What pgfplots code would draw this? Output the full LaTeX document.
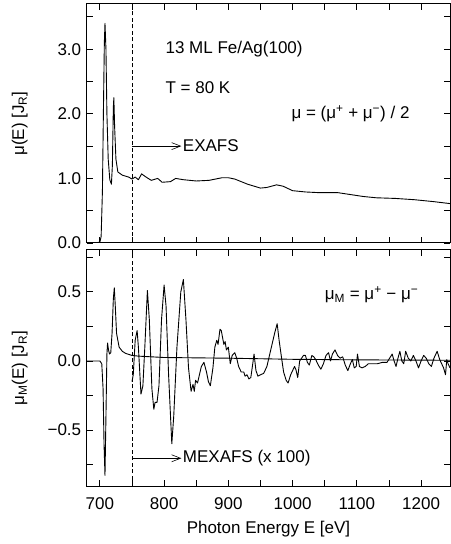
\documentclass[border=0pt]{standalone}
\usepackage{fontspec}
\setmainfont{Liberation Sans}
\usepackage{pgfplots}
\pgfplotsset{compat=1.18}
\usetikzlibrary{arrows.meta}

\pgfplotstableread{
E mu
680 0.0
700 0.01
702 0.1
704 0.8
705.5 2.0
707 3.1
708 3.4
709.5 3.0
711 2.0
713 1.3
715.5 0.98
718 0.91
719.5 1.2
721 2.1
721.8 2.25
723 1.8
725 1.3
728 1.1
735 1.05
745 1.02
750 0.99
755 1.02
760 0.98
765 1.07
772 1.02
780 0.97
790 1.00
797 0.94
810 0.95
818 1.00
830 0.98
850 0.96
870 0.97
890 1.01
900 1.01
910 0.99
930 0.91
950 0.85
960 0.86
975 0.90
985 0.88
1000 0.81
1020 0.79
1040 0.78
1070 0.78
1090 0.75
1110 0.72
1130 0.70
1160 0.69
1190 0.67
1220 0.64
1245 0.61
}\muE

\pgfplotstableread{
E m
680 0.0
700 0.0
703 -0.02
705 -0.2
706.5 -0.6
708 -0.83
709.5 -0.4
711 0.05
712 0.13
713.5 0.08
715 0.05
717 0.06
719 0.2
721 0.45
722.5 0.53
724 0.4
726 0.2
730 0.1
735 0.07
740 0.055
750 0.04
760 0.035
800 0.025
900 0.02
1000 0.012
1100 0.008
1245 0.005
}\muM

\pgfplotstableread{
E m
750 -0.15
752 -0.10
755 0.15
758 0.22
760 0.10
764 -0.24
767 -0.18
770 0.10
774 0.51
777 0.30
781 -0.20
784 -0.35
786 -0.30
789 -0.30
792 -0.18
796 0.30
800 0.55
803 0.40
807 -0.10
812 -0.60
815 -0.40
820 0.10
826 0.50
830 0.59
834 0.30
838 -0.05
842 -0.22
845 -0.17
847 -0.22
849 -0.14
852 -0.16
855 -0.10
858 -0.04
862 -0.01
866 -0.08
869 -0.15
872 -0.18
876 -0.05
879 0.10
882 0.15
884 0.12
887 0.23
889 0.22
891 0.17
893 0.12
895 0.14
897 0.08
900 0.10
903 -0.02
906 0.04
910 0.06
913 0.02
916 -0.04
920 -0.08
924 -0.08
926 -0.11
929 -0.10
932 -0.13
935 -0.12
938 -0.02
940 0.05
943 -0.07
946 -0.11
950 -0.10
955 -0.09
960 -0.04
964 0.04
968 0.12
972 0.20
976 0.27
979 0.15
982 0.05
986 -0.08
990 -0.14
993 -0.16
997 -0.10
1000 -0.07
1003 -0.04
1005 -0.06
1008 -0.12
1011 0.00
1014 0.02
1017 0.04
1020 0.04
1023 -0.01
1026 -0.03
1030 0.04
1033 0.03
1036 0.01
1040 -0.03
1044 -0.06
1048 -0.02
1052 0.04
1056 0.06
1059 0.00
1062 0.05
1066 0.08
1070 0.04
1074 0.02
1078 0.03
1082 -0.03
1086 -0.07
1090 -0.02
1093 0.01
1096 -0.05
1099 -0.04
1101 0.05
1104 -0.04
1108 -0.05
1113 -0.04
1118 -0.02
1125 -0.02
1132 -0.02
1140 -0.01
1147 -0.01
1151 0.02
1155 0.05
1158 0.00
1161 -0.04
1164 0.02
1167 0.07
1170 0.00
1173 -0.02
1176 0.07
1180 0.02
1184 0.00
1188 0.04
1192 0.00
1196 -0.05
1200 0.00
1204 0.04
1208 0.02
1212 -0.02
1216 -0.04
1220 0.02
1225 0.07
1229 0.01
1232 -0.02
1235 -0.05
1238 -0.10
1240 0.01
1242 -0.02
1245 -0.05
}\mexafs

\begin{document}
\fontsize{17bp}{20bp}\selectfont
\begin{tikzpicture}
\pgfplotsset{
  panel/.style={
    scale only axis, width=363bp,
    xmin=680, xmax=1245,
    xtick={700,800,...,1200},
    minor xtick={750,850,...,1250},
    tick align=inside, xtick pos=both, ytick pos=both,
    major tick length=6bp, minor tick length=6bp,
    axis line style={line width=1bp},
    every tick/.style={line width=0.9bp, black},
    tick label style={font=\fontsize{17bp}{20bp}\selectfont},
    xticklabel style={yshift=-6bp},
    label style={font=\fontsize{17bp}{20bp}\selectfont},
    ylabel style={at={(axis description cs:-0.185,0.5)}, anchor=center},
  },
  curve/.style={black, line width=0.9bp, line join=round, no marks},
}
% bottom panel
\begin{axis}[panel,
  at={(0,0)}, anchor=south west, height=236bp,
  ymin=-0.906, ymax=0.804,
  ytick={-0.5,0,0.5}, yticklabels={−0.5,0.0,0.5},
  minor ytick={-0.75,-0.25,0.25,0.75},
  xticklabels={700,800,900,1000,1100,1200},
  xlabel={Photon Energy E [eV]},
  xlabel style={at={(axis description cs:0.5,0)}, yshift=-43bp, anchor=center},
  ylabel={μ\textsubscript{M}(E) [J\textsubscript{R}]},
]
\addplot[curve] table[x=E,y=m] {\muM};
\addplot[curve] table[x=E,y=m] {\mexafs};
\draw[line width=0.8bp, dash pattern=on 4bp off 2.5bp] (axis cs:750,-0.906) -- (axis cs:750,0.804);
\draw[line width=0.6bp, -{Straight Barb[length=9bp,width=7bp]}] (axis cs:750,-0.705) -- (axis cs:827,-0.705);
\node[anchor=west, inner sep=0] at (axis cs:829,-0.705) {MEXAFS (x 100)};
\node[anchor=west, inner sep=0] at (axis cs:1050,0.478) {μ\textsubscript{M} = μ\textsuperscript{+} − μ\textsuperscript{−}};
\end{axis}
% top panel
\begin{axis}[panel,
  at={(0,243bp)}, anchor=south west, height=239bp,
  ymin=0, ymax=3.7,
  ytick={0,1,2,3}, yticklabels={0.0,1.0,2.0,3.0},
  minor ytick={0.5,1.5,2.5,3.5},
  xticklabels={},
  ylabel={μ(E) [J\textsubscript{R}]},
]
\addplot[curve] table[x=E,y=mu] {\muE};
\draw[line width=0.8bp, dash pattern=on 4bp off 2.5bp] (axis cs:750,0) -- (axis cs:750,3.7);
\draw[line width=0.6bp, -{Straight Barb[length=9bp,width=7bp]}] (axis cs:750,1.5) -- (axis cs:827,1.5);
\node[anchor=west, inner sep=0] at (axis cs:829,1.5) {EXAFS};
\node[anchor=west, inner sep=0] at (axis cs:802,3.0) {13 ML Fe/Ag(100)};
\node[anchor=west, inner sep=0] at (axis cs:802,2.4) {T = 80 K};
\node[anchor=west, inner sep=0] at (axis cs:998,2.0) {μ = (μ\textsuperscript{+} + μ\textsuperscript{−}) / 2};
\end{axis}
\pgfresetboundingbox
\useasboundingbox (-87bp,-58bp) rectangle (364bp,486bp);
\end{tikzpicture}
\end{document}
